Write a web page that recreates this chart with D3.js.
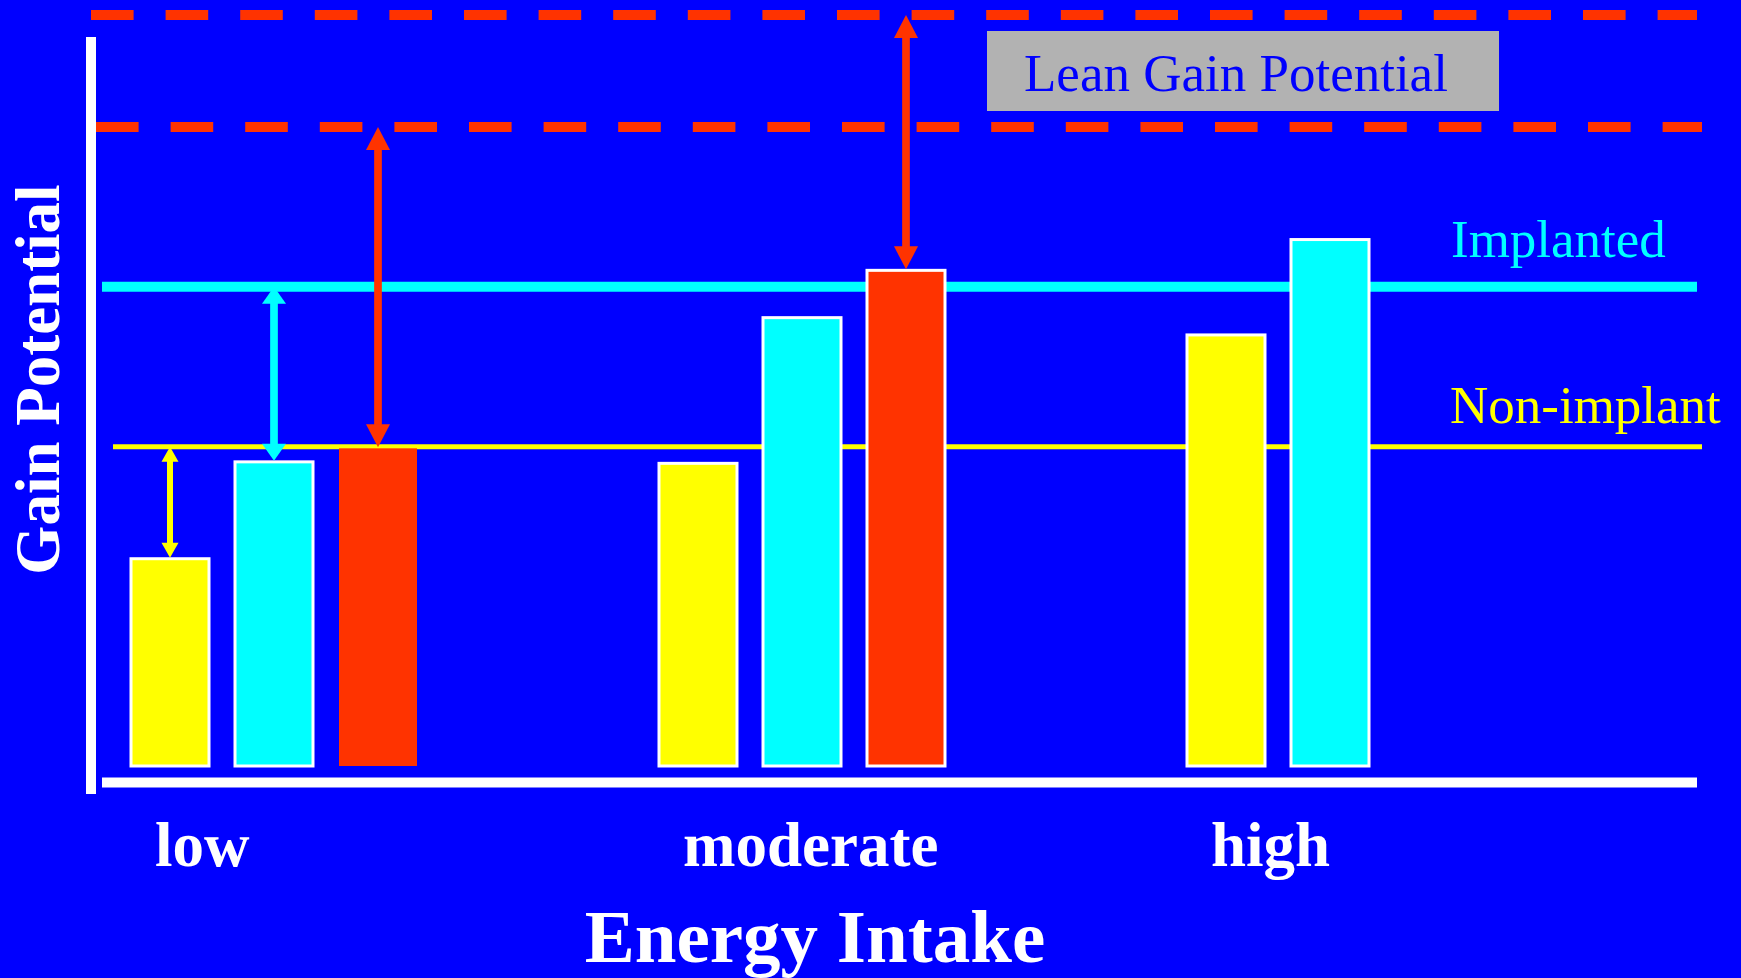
<!DOCTYPE html>
<html>
<head>
<meta charset="utf-8">
<script src="https://cdn.jsdelivr.net/npm/d3@7"></script>
<style>
  html, body { margin: 0; padding: 0; background: #0000ff; overflow: hidden; }
  svg { display: block; }
  text { font-family: "Liberation Serif", "Times New Roman", Times, serif; }
</style>
</head>
<body>
<svg id="chart" width="1741" height="978"></svg>
<script>
// ---- data ----
const categories = ["low", "moderate", "high"];
const series = ["Non-implant", "Implanted", "Lean"];
const nonImplantGain = [27.6, 40.3, 57.4];
const implantedGain = [40.5, 59.7, 70.1];
const leanGain = [42.3, 66.0, null];

const nonImplantPotential = 42.5;
const implantedPotential = 63.8;
const leanPotential = [85.1, 100];

const xTitle = "Energy Intake";
const yTitle = "Gain Potential";
const boxLabel = "Lean Gain Potential";

// gap arrows: from a bar top up to a potential level
const gaps = [
  { category: "low", series: "Non-implant", level: nonImplantPotential },
  { category: "low", series: "Implanted", level: implantedPotential },
  { category: "low", series: "Lean", level: leanPotential[0] },
  { category: "moderate", series: "Lean", level: leanPotential[1] }
];

// ---- styles ----
const BLUE = "#0000ff", RED = "#ff3300", YELLOW = "#ffff00", CYAN = "#00ffff", WHITE = "#ffffff";
const colour = { "Non-implant": YELLOW, "Implanted": CYAN, "Lean": RED };
const unframed = new Set(["low|Lean"]);
const arrowStyle = {
  "Non-implant": { shaft: 6, headW: 17, headL: 15 },
  "Implanted": { shaft: 7.7, headW: 24, headL: 17 },
  "Lean": { shaft: 7.7, headW: 24, headL: 23 }
};

const valuesBySeries = { "Non-implant": nonImplantGain, "Implanted": implantedGain, "Lean": leanGain };
const rows = [];
categories.forEach((c, i) => series.forEach(s => {
  const v = valuesBySeries[s][i];
  if (v != null) rows.push({ category: c, series: s, value: v });
}));

// ---- scales ----
const y = d3.scaleLinear().domain([0, 100]).range([766, 15]);
const xGroup = d3.scalePoint().domain(categories).range([274, 1330]);
const xInner = d3.scaleBand().domain(series).range([-143, 143]).paddingInner(0.25).paddingOuter(0);
const barX = d => xGroup(d.category) + xInner(d.series);
const barCx = (c, s) => xGroup(c) + xInner(s) + xInner.bandwidth() / 2;

const svg = d3.select("#chart");
svg.append("rect").attr("width", 1741).attr("height", 978).attr("fill", BLUE);

// ---- potential levels ----
const lvl = svg.append("g");
lvl.append("line")
  .attr("x1", 91).attr("x2", 1697)
  .attr("y1", y(leanPotential[1])).attr("y2", y(leanPotential[1]))
  .attr("stroke", RED).attr("stroke-width", 10).attr("stroke-dasharray", "42.6 32");
lvl.append("line")
  .attr("x1", 96).attr("x2", 1702)
  .attr("y1", y(leanPotential[0])).attr("y2", y(leanPotential[0]))
  .attr("stroke", RED).attr("stroke-width", 10).attr("stroke-dasharray", "42.6 32");
lvl.append("line")
  .attr("x1", 102).attr("x2", 1697)
  .attr("y1", y(implantedPotential)).attr("y2", y(implantedPotential))
  .attr("stroke", CYAN).attr("stroke-width", 10);
lvl.append("line")
  .attr("x1", 113).attr("x2", 1702)
  .attr("y1", y(nonImplantPotential)).attr("y2", y(nonImplantPotential))
  .attr("stroke", YELLOW).attr("stroke-width", 5);

// ---- bars ----
svg.append("g").selectAll("rect").data(rows).join("rect")
  .attr("x", barX)
  .attr("y", d => y(d.value))
  .attr("width", xInner.bandwidth())
  .attr("height", d => y(0) - y(d.value))
  .attr("fill", d => colour[d.series])
  .attr("stroke", d => unframed.has(d.category + "|" + d.series) ? "none" : WHITE)
  .attr("stroke-width", 3);

// ---- gap arrows ----
const valueOf = (c, s) => valuesBySeries[s][categories.indexOf(c)];
const ag = svg.append("g");
gaps.forEach(g => {
  const st = arrowStyle[g.series];
  const cx = barCx(g.category, g.series);
  const yTop = y(g.level);
  const yBot = y(valueOf(g.category, g.series)) - 1;
  const col = colour[g.series];
  ag.append("line")
    .attr("x1", cx).attr("x2", cx)
    .attr("y1", yTop + st.headL - 1).attr("y2", yBot - st.headL + 1)
    .attr("stroke", col).attr("stroke-width", st.shaft);
  ag.append("path")
    .attr("d", `M${cx},${yTop} L${cx - st.headW / 2},${yTop + st.headL} L${cx + st.headW / 2},${yTop + st.headL} Z`)
    .attr("fill", col);
  ag.append("path")
    .attr("d", `M${cx},${yBot} L${cx - st.headW / 2},${yBot - st.headL} L${cx + st.headW / 2},${yBot - st.headL} Z`)
    .attr("fill", col);
});

// ---- axes ----
svg.append("line").attr("x1", 91).attr("x2", 91).attr("y1", 37).attr("y2", 794)
  .attr("stroke", WHITE).attr("stroke-width", 10);
svg.append("line").attr("x1", 102).attr("x2", 1697).attr("y1", 782.5).attr("y2", 782.5)
  .attr("stroke", WHITE).attr("stroke-width", 10);

// category labels
svg.append("g").selectAll("text").data(categories).join("text")
  .attr("x", c => xGroup(c) + xInner(series[0]) + 24)
  .attr("y", 866)
  .attr("fill", WHITE).attr("font-size", 63).attr("font-weight", "bold")
  .text(c => c);

// axis titles
svg.append("text").attr("x", 815).attr("y", 962).attr("text-anchor", "middle")
  .attr("fill", WHITE).attr("font-size", 75).attr("font-weight", "bold").text(xTitle);
svg.append("text").attr("transform", "translate(59,379.5) rotate(-90)").attr("text-anchor", "middle")
  .attr("fill", WHITE).attr("font-size", 63).attr("font-weight", "bold").text(yTitle);

// level labels
svg.append("rect").attr("x", 987).attr("y", 31).attr("width", 512).attr("height", 80).attr("fill", "#b2b2b2");
svg.append("text").attr("x", 1024).attr("y", 91).attr("fill", BLUE).attr("font-size", 53).text(boxLabel);
svg.append("text").attr("x", 1451).attr("y", y(implantedPotential) - 30)
  .attr("fill", CYAN).attr("font-size", 53).text("Implanted");
svg.append("text").attr("x", 1450).attr("y", y(nonImplantPotential) - 24)
  .attr("fill", YELLOW).attr("font-size", 53).text("Non-implant");
</script>
</body>
</html>
